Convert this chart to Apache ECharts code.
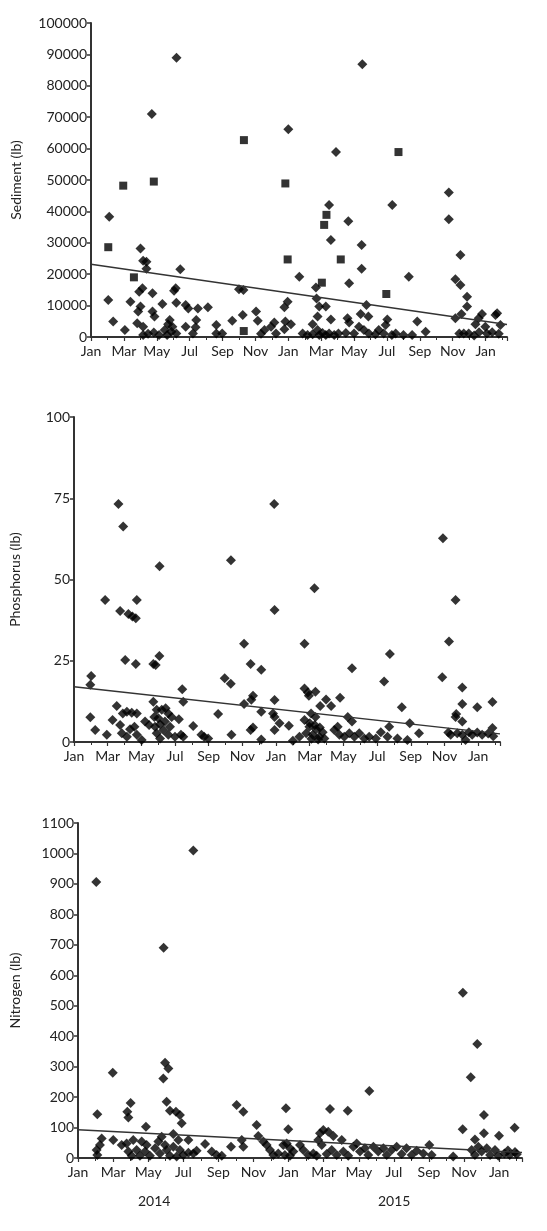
<!DOCTYPE html>
<html><head><meta charset="utf-8">
<script src="https://cdn.jsdelivr.net/npm/echarts@6/dist/echarts.min.js"></script>
<style>html,body{margin:0;padding:0;background:#fff}#c{width:547px;height:1231px}</style>
</head><body><div id="c"></div>
<script>
// x values: months since 1 Jan 2014
const monthLabels = ['Jan','Mar','May','Jul','Sep','Nov','Jan','Mar','May','Jul','Sep','Nov','Jan'];
const yearLabels = ['2014','2015'];
const X_MAX = 25.3;

const sedimentPts = [[5.2,88900],[3.7,71000],[12.0,66200],[14.9,58900],[16.5,86900],
[1.11,38300],[3.01,28200],[3.17,24300],[3.37,24000],[3.37,21700],[5.43,21600],[1.05,11800],[1.35,4900],[2.06,2200],[2.4,11200],[2.93,14400],[3.13,15500],[3.01,9700],[2.87,8100],[2.81,4400],[3.17,3300],[3.74,13900],[3.74,8100],[3.86,6500],[4.34,10500],[3.17,600],[3.47,1000],[3.82,1400],[4.14,600],[4.48,2200],[4.63,600],[4.89,1700],[5.19,1100],[5.15,15500],[5.05,14700],[5.19,10900],[4.79,5400],[4.69,4100],[4.95,3300],[5.76,10200],[5.92,9100],[5.76,3300],[6.4,5400],[6.5,9100],[6.36,3100],[6.2,1100],[7.11,9500],[7.62,3800],[7.62,1100],[7.98,1100],[8.59,5200],[9.0,15200],[9.27,15000],[9.23,7000],[10.04,8100],[10.14,5200],[10.55,2200],[10.34,1000],[10.95,3300],[11.15,4600],[11.25,1100],[11.76,9500],[11.96,11200],[11.82,4900],[11.76,2500],
[14.48,42000],[15.65,36900],[14.59,30900],[16.46,29300],[16.46,21700],[18.32,42000],[21.76,46000],[21.76,37500],[22.47,26100],[12.67,19200],[19.33,19200],[13.68,15800],[15.7,17100],[22.16,18400],[22.47,16600],[22.87,12800],[22.87,9700],[13.72,12300],[13.88,9700],[14.28,9700],[16.75,10200],[14.59,5600],[16.4,7300],[16.87,6500],[15.6,6000],[15.7,4600],[18.02,5600],[17.92,3800],[19.84,4900],[20.35,1700],[19.53,600],[18.53,1100],[22.16,6000],[22.53,7300],[22.67,1100],[22.97,1100],[23.38,4100],[23.58,6000],[23.78,7300],[23.98,3300],[24.08,1100],[12.87,1100],[13.17,600],[13.48,900],[13.48,4100],[13.78,2200],[13.88,600],[14.08,1300],[14.28,600],[14.48,1100],[14.79,600],[15.05,1100],[13.78,6500],[12.16,4100],[15.5,1300],[16.0,1100],[16.3,3300],[16.6,2200],[16.9,1100],[17.3,900],[17.5,2200],[17.8,1100],[18.3,600],[19.0,600],[22.4,1100],[23.6,1500],[23.3,500],[24.7,7600],[24.6,7000],[24.4,1500],[24.8,1000],[24.9,3800]];
const sedimentSq = [[1.96,48200],[3.82,49500],[1.05,28600],[2.61,19000],[9.29,1900],[11.82,48900],[11.96,24700],[9.3,62700],[18.7,58900],[14.32,38900],[14.18,35700],[15.19,24700],[14.04,17300],[17.96,13700]];
const sedimentTrend = [[0,23200],[25.3,4000]];

const phosphorusPts = [[2.64,73.2],[2.92,66.3],[5.08,54.1],[9.32,55.9],[11.89,73.2],[14.28,47.3],[21.91,62.7],
[1.85,43.7],[2.74,40.3],[3.23,39.4],[3.47,38.6],[3.67,38.1],[3.73,43.7],[3.04,25.2],[3.67,24.0],[4.71,24.0],[4.85,23.7],[5.07,26.5],[1.02,20.3],[0.97,17.6],[0.97,7.6],[1.26,3.7],[1.95,2.2],[2.29,6.8],[2.54,11.1],[2.9,8.8],[3.14,9.3],[3.43,9.0],[3.73,8.8],[2.74,5.2],[2.84,2.7],[3.14,1.6],[3.33,3.9],[3.59,4.7],[3.73,2.2],[4.02,0.6],[4.22,6.3],[4.46,5.2],[4.71,12.4],[4.77,7.7],[4.91,9.9],[5.01,7.3],[5.11,5.5],[4.81,4.7],[4.91,2.7],[5.11,1.1],[5.21,9.9],[5.44,10.4],[5.6,8.8],[5.8,7.7],[5.4,6.3],[5.7,4.7],[5.6,2.2],[5.31,3.7],[6.0,1.6],[6.23,7.0],[6.43,16.2],[6.49,12.4],[6.35,2.2],[6.49,1.6],[7.08,4.9],[7.57,2.2],[7.73,1.6],[7.97,1.1],[8.56,8.6],[8.95,19.6],[9.31,17.9],[9.35,2.2],[10.1,30.2],[10.49,24.0],[11.12,22.2],[10.1,11.7],[10.63,14.2],[10.53,13.0],[10.63,4.5],[10.49,3.7],[11.12,9.3],[11.12,0.8],[11.91,40.6],[11.91,12.9],[11.91,7.7],[11.91,3.7],
[13.69,30.2],[16.51,22.7],[18.76,27.1],[18.42,18.6],[22.66,43.7],[22.27,30.9],[21.87,19.9],[23.06,16.8],[23.06,11.7],[23.95,10.7],[19.47,10.7],[13.69,16.5],[13.89,15.2],[14.34,15.5],[13.95,14.2],[14.97,13.1],[14.62,11.1],[15.27,11.1],[15.8,13.6],[11.82,8.8],[12.21,5.8],[12.76,5.0],[13.69,6.8],[14.08,8.8],[14.34,7.7],[16.26,7.7],[16.51,6.3],[13.0,0.4],[13.39,1.6],[13.79,2.7],[13.98,4.7],[14.18,2.2],[14.38,3.9],[14.57,1.6],[14.77,3.0],[14.87,1.1],[15.46,3.7],[15.66,4.7],[15.76,2.2],[16.05,1.6],[16.35,2.7],[16.65,1.6],[16.94,2.7],[17.24,1.1],[17.53,1.6],[17.93,1.1],[18.22,3.0],[18.62,1.6],[18.72,4.7],[19.21,1.1],[19.8,0.6],[19.94,5.8],[20.49,2.7],[22.23,2.9],[22.37,2.2],[22.66,7.7],[22.7,8.6],[23.06,6.3],[22.76,2.7],[23.06,2.2],[23.45,3.0],[23.65,2.2],[23.95,2.9],[23.25,0.6],[24.24,2.2],[24.85,12.3],[24.85,4.3],[24.9,1.8],[24.6,2.6],[14.1,1.0],[14.5,0.8],[14.0,5.8],[14.3,5.2],[14.6,4.5]];
const phosphorusTrend = [[0,17],[25.3,2.5]];

const nitrogenPts = [[1.04,906],[6.57,1010],[4.88,690],[21.93,543],
[1.98,280],[4.96,313],[5.15,294],[4.86,261],[5.05,185],[5.24,155],[5.58,152],[5.81,141],[5.91,114],[1.1,144],[3.0,181],[2.81,152],[2.87,133],[3.87,103],[9.04,174],[9.42,152],[10.18,108],[11.85,163],[11.98,94],[5.43,79],[1.35,64],[1.25,43],[1.06,26],[1.1,10],[2.01,59],[2.49,43],[2.77,48],[3.15,59],[3.63,54],[3.91,43],[2.87,21],[3.06,7],[3.34,26],[3.53,7],[3.82,21],[4.1,7],[4.39,32],[4.58,54],[4.77,70],[4.67,15],[4.96,43],[5.05,26],[5.24,7],[5.43,37],[5.72,59],[5.81,26],[6.0,10],[5.62,5],[6.29,59],[6.29,17],[6.57,15],[6.76,24],[7.24,46],[7.62,21],[7.9,10],[8.19,7],[8.72,37],[9.33,59],[9.42,37],[10.27,72],[10.56,54],[10.75,43],[10.94,26],[11.13,10],[11.41,15],[11.79,10],[11.89,48],
[14.36,161],[15.37,155],[16.6,220],[22.75,374],[22.38,265],[23.13,141],[21.92,94],[23.13,81],[22.62,61],[13.79,81],[13.98,92],[14.26,86],[14.55,72],[15.03,59],[13.69,59],[13.89,43],[12.08,32],[12.27,21],[12.08,7],[12.84,26],[13.12,10],[13.41,15],[13.6,7],[14.17,13],[14.46,26],[14.74,10],[15.12,21],[15.4,7],[15.69,37],[15.88,48],[16.07,21],[16.35,32],[16.54,10],[16.83,37],[17.11,21],[17.4,32],[17.59,10],[17.87,26],[18.16,37],[18.44,13],[18.72,32],[19.01,10],[19.3,24],[19.68,15],[20.02,43],[20.15,10],[21.38,5],[22.43,26],[22.62,10],[22.81,37],[23.0,21],[23.29,32],[23.48,10],[23.76,26],[23.95,7],[12.65,43],[11.7,43],[24.88,99],[23.99,73],[24.3,15],[24.6,10],[24.9,20],[25.0,12],[24.5,25]];
const nitrogenTrend = [[0,93],[25.3,18]];

const FONT = 'Lato, "Open Sans", sans-serif';
const INK = '#222';
const chart = echarts.init(document.getElementById('c'), null, {renderer: 'canvas'});

function xAx(gi) {
  return {
    gridIndex: gi, type: 'value', min: 0, max: X_MAX, interval: 2,
    axisLine: {show: true, onZero: false, lineStyle: {color: '#333', width: 2}},
    axisTick: {show: true, length: 4, lineStyle: {color: '#333', width: 1.2}},
    minorTick: {show: true, splitNumber: 2, length: 3, lineStyle: {color: '#333', width: 1}},
    splitLine: {show: false}, minorSplitLine: {show: false},
    axisLabel: {
      showMaxLabel: false, color: INK, fontFamily: FONT, fontSize: 14, margin: 7,
      formatter: v => (Math.abs(v / 2 - Math.round(v / 2)) < 1e-6 ? (monthLabels[Math.round(v / 2)] || '') : '')
    }
  };
}
function yAx(gi, max, interval, name, gap) {
  return {
    gridIndex: gi, type: 'value', min: 0, max: max, interval: interval,
    name: name, nameLocation: 'middle', nameGap: gap, nameRotate: 90,
    nameTextStyle: {color: INK, fontFamily: FONT, fontSize: 14},
    axisLine: {show: true, lineStyle: {color: '#333', width: 2}},
    axisTick: {show: true, length: 4, lineStyle: {color: '#333', width: 1.5}},
    splitLine: {show: false},
    axisLabel: {color: INK, fontFamily: FONT, fontSize: 14, margin: 4, formatter: v => String(v)}
  };
}
function pts(idx, data, symbol, size) {
  return {type: 'scatter', xAxisIndex: idx, yAxisIndex: idx, data: data, symbol: symbol, symbolSize: size,
    itemStyle: {color: '#000'}, silent: true, z: 3};
}
function trend(idx, data) {
  return {type: 'line', xAxisIndex: idx, yAxisIndex: idx, data: data, showSymbol: false, symbol: 'none',
    lineStyle: {color: '#333', width: 1.5}, silent: true, z: 4};
}

chart.setOption({
  animation: false,
  backgroundColor: '#fff',
  grid: [
    {left: 91, top: 23, width: 416, height: 314},
    {left: 72, top: 417, width: 428, height: 325},
    {left: 78, top: 823, width: 444, height: 335}
  ],
  xAxis: [xAx(0), xAx(1), xAx(2)],
  yAxis: [
    yAx(0, 100000, 10000, 'Sediment (lb)', 68),
    yAx(1, 100, 25, 'Phosphorus (lb)', 52),
    yAx(2, 1100, 100, 'Nitrogen (lb)', 56)
  ],
  series: [
    pts(0, sedimentPts, 'diamond', 10),
    pts(0, sedimentSq, 'rect', 8),
    trend(0, sedimentTrend),
    pts(1, phosphorusPts, 'diamond', 10),
    trend(1, phosphorusTrend),
    pts(2, nitrogenPts, 'diamond', 10),
    trend(2, nitrogenTrend)
  ],
  graphic: [
    {type: 'text', left: 138, top: 1194, style: {text: yearLabels[0], fill: INK, font: '14px ' + FONT}},
    {type: 'text', left: 378, top: 1194, style: {text: yearLabels[1], fill: INK, font: '14px ' + FONT}}
  ]
});
</script></body></html>
